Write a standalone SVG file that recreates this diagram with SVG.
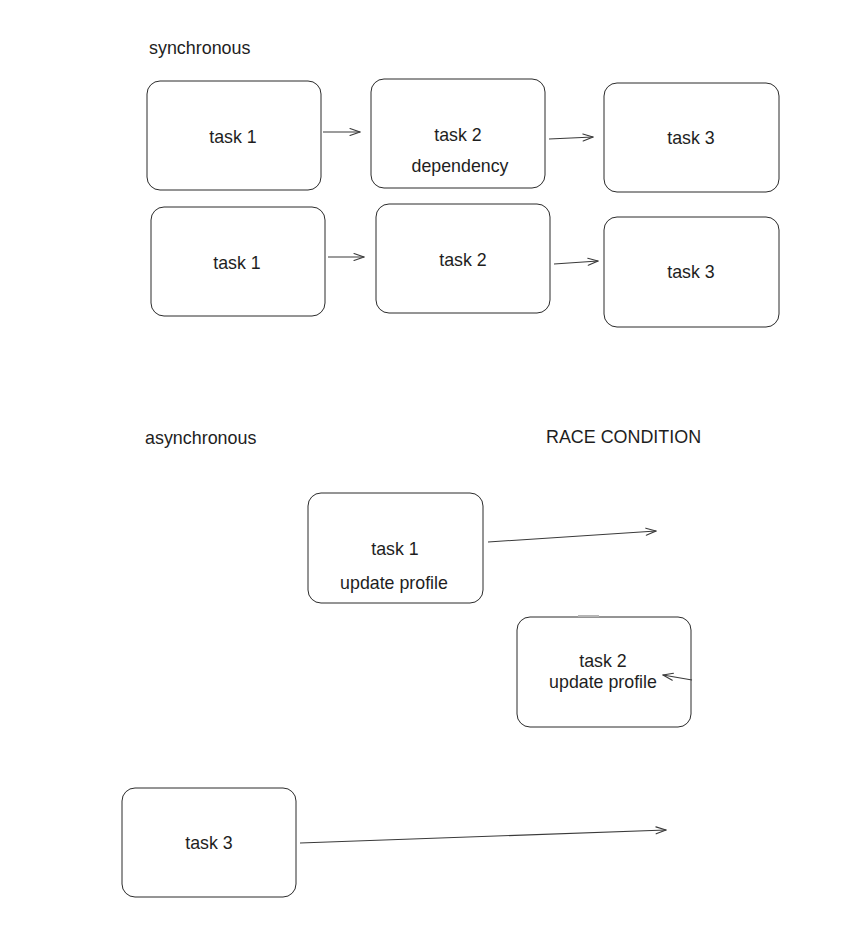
<svg xmlns="http://www.w3.org/2000/svg" width="860" height="951" viewBox="0 0 860 951">
  <style>
    .box { fill: #ffffff; stroke: #2b2b2b; stroke-width: 1; }
    .lbl { font-family: "Liberation Sans", Arial, sans-serif; font-size: 17.8px; fill: #1e1e1e; text-anchor: middle; dominant-baseline: central; }
    .title { font-family: "Liberation Sans", Arial, sans-serif; font-size: 17.9px; fill: #1e1e1e; dominant-baseline: central; }
    .edge { fill: none; stroke: #3a3a3a; stroke-width: 1.1; }
    .head { fill: none; stroke: #3a3a3a; stroke-width: 1.1; stroke-linecap: round; }
  </style>
  <defs>
    <marker id="arrow" viewBox="0 0 12 10" refX="11" refY="5" markerWidth="12" markerHeight="10" markerUnits="userSpaceOnUse" orient="auto">
      <path class="head" d="M1,1.5 L11,5 L1,8.5"/>
    </marker>
  </defs>
  <rect width="860" height="951" fill="#ffffff"/>

  <!-- section titles -->
  <text class="title" x="149" y="48">synchronous</text>
  <text class="title" x="145" y="438">asynchronous</text>
  <text class="title" x="546" y="437">RACE CONDITION</text>

  <!-- synchronous, row 1 -->
  <g id="s1-task1">
    <rect class="box" x="147" y="81" width="174" height="109" rx="13"/>
    <text class="lbl" x="233" y="137">task 1</text>
  </g>
  <g id="s1-task2">
    <rect class="box" x="371" y="79" width="174" height="109" rx="13"/>
    <text class="lbl" x="458" y="135">task 2</text>
    <text class="lbl" x="460" y="166">dependency</text>
  </g>
  <g id="s1-task3">
    <rect class="box" x="604" y="83" width="175" height="109" rx="13"/>
    <text class="lbl" x="691" y="138">task 3</text>
  </g>

  <!-- synchronous, row 2 -->
  <g id="s2-task1">
    <rect class="box" x="151" y="207" width="174" height="109" rx="13"/>
    <text class="lbl" x="237" y="263">task 1</text>
  </g>
  <g id="s2-task2">
    <rect class="box" x="376" y="204" width="174" height="109" rx="13"/>
    <text class="lbl" x="463" y="260">task 2</text>
  </g>
  <g id="s2-task3">
    <rect class="box" x="604" y="217" width="175" height="110" rx="13"/>
    <text class="lbl" x="691" y="272">task 3</text>
  </g>

  <!-- asynchronous -->
  <g id="a-task1">
    <rect class="box" x="308" y="493" width="175" height="110" rx="13"/>
    <text class="lbl" x="395" y="549">task 1</text>
    <text class="lbl" x="394" y="583">update profile</text>
  </g>
  <g id="a-task2">
    <rect class="box" x="517" y="617" width="174" height="110" rx="13"/>
    <line x1="578" y1="616" x2="599" y2="616" stroke="#b5b5b5" stroke-width="2"/>
    <text class="lbl" x="603" y="661">task 2</text>
    <text class="lbl" x="603" y="682">update profile</text>
  </g>
  <g id="a-task3">
    <rect class="box" x="122" y="788" width="174" height="109" rx="13"/>
    <text class="lbl" x="209" y="843">task 3</text>
  </g>

  <!-- connectors -->
  <g id="connectors">
    <line class="edge" x1="323" y1="132" x2="360" y2="132" marker-end="url(#arrow)"/>
    <line class="edge" x1="549" y1="139" x2="593" y2="137" marker-end="url(#arrow)"/>
    <line class="edge" x1="328" y1="257" x2="364" y2="257" marker-end="url(#arrow)"/>
    <line class="edge" x1="554" y1="264" x2="598" y2="261" marker-end="url(#arrow)"/>
    <line class="edge" x1="488" y1="542" x2="656" y2="531" marker-end="url(#arrow)"/>
    <line class="edge" x1="692" y1="680" x2="663" y2="675" marker-end="url(#arrow)"/>
    <line class="edge" x1="300" y1="843" x2="666" y2="830" marker-end="url(#arrow)"/>
  </g>
</svg>
